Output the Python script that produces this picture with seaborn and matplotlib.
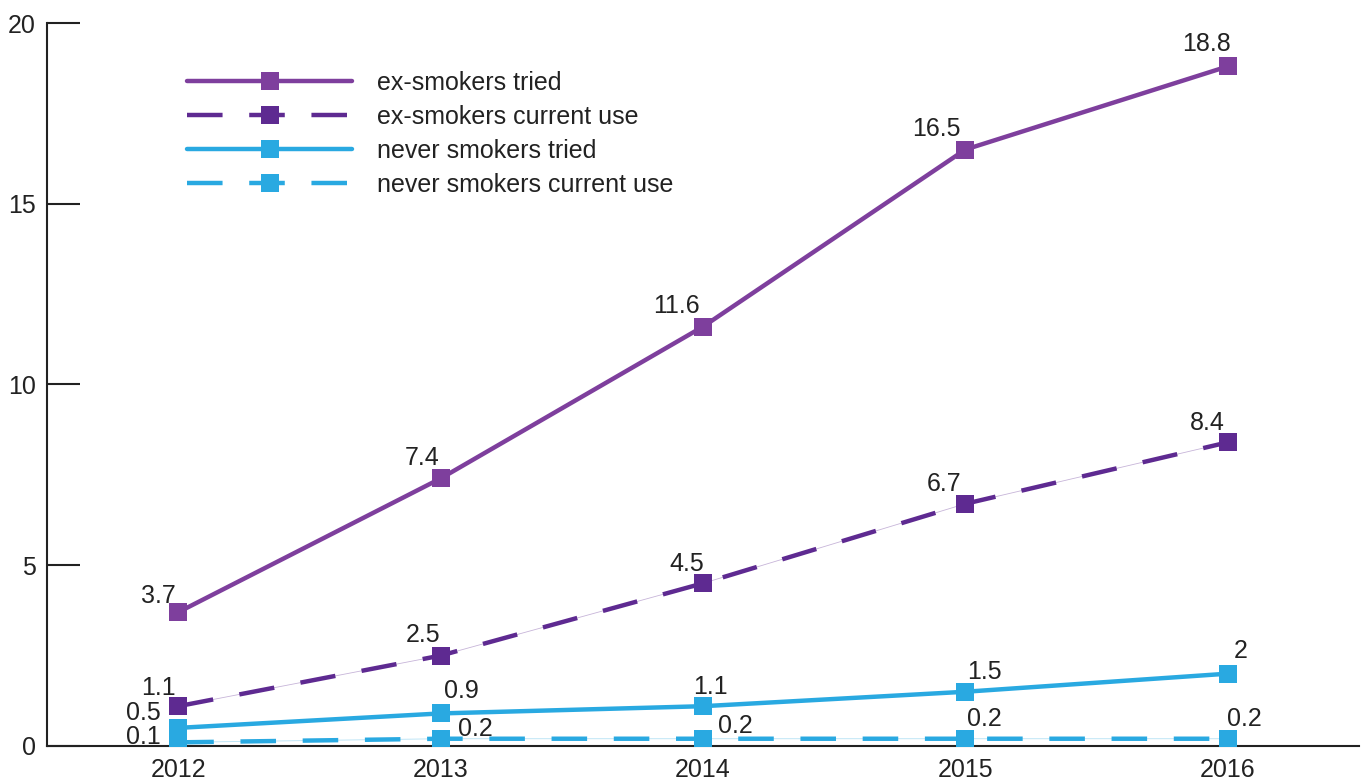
import numpy as np
import pandas as pd
import matplotlib
matplotlib.use("Agg")
import matplotlib.pyplot as plt
from matplotlib.lines import Line2D
import seaborn as sns

years = ["2012", "2013", "2014", "2015", "2016"]
series_names = ["ex-smokers tried", "ex-smokers current use",
                "never smokers tried", "never smokers current use"]
ex_tried = [3.7, 7.4, 11.6, 16.5, 18.8]
ex_current = [1.1, 2.5, 4.5, 6.7, 8.4]
never_tried = [0.5, 0.9, 1.1, 1.5, 2]
never_current = [0.1, 0.2, 0.2, 0.2, 0.2]
label_text = {
    "ex-smokers tried": ["3.7", "7.4", "11.6", "16.5", "18.8"],
    "ex-smokers current use": ["1.1", "2.5", "4.5", "6.7", "8.4"],
    "never smokers tried": ["0.5", "0.9", "1.1", "1.5", "2"],
    "never smokers current use": ["0.1", "0.2", "0.2", "0.2", "0.2"],
}

colors = {
    "ex-smokers tried": "#7E3F9D",
    "ex-smokers current use": "#5E2A91",
    "never smokers tried": "#29A9E1",
    "never smokers current use": "#29A9E1",
}
dash_map = {
    "ex-smokers tried": "",
    "ex-smokers current use": (8.0, 6.0),
    "never smokers tried": "",
    "never smokers current use": (8.0, 6.0),
}
# label offsets in points (dx, dy) relative to each marker
offsets = {
    "ex-smokers tried": [(-14, 12), (-13, 15), (-19, 15), (-21, 15), (-15, 16)],
    "ex-smokers current use": [(-14, 13), (-13, 15), (-12, 14), (-15, 14), (-15, 14)],
    "never smokers tried": [(-25, 11), (15, 16), (5, 14), (14, 14), (9, 16)],
    "never smokers current use": [(-25, 4), (25, 7), (23, 9), (14, 14), (12, 14)],
}

values = [ex_tried, ex_current, never_tried, never_current]
rows = []
for name, vals in zip(series_names, values):
    for i, (yr, v) in enumerate(zip(years, vals)):
        rows.append({"series": name, "year": yr, "pos": i, "value": v})
df = pd.DataFrame(rows)

sns.set_theme(style="white")
plt.rcParams["font.family"] = ["Liberation Sans", "DejaVu Sans"]

fig = plt.figure(figsize=(13.72, 7.83), dpi=100)
ax = fig.add_axes([0.0343, 0.0473, 0.9562, 0.9233])

# faint connecting lines beneath the dashed series
for name in ["ex-smokers current use", "never smokers current use"]:
    sub = df[df["series"] == name]
    ax.plot(sub["pos"], sub["value"], color=colors[name], lw=0.6, alpha=0.35, zorder=1)

sns.lineplot(
    data=df, x="pos", y="value", hue="series", style="series",
    hue_order=series_names, style_order=series_names,
    palette=colors, dashes=dash_map, markers={n: "s" for n in series_names},
    markersize=13, markeredgewidth=0, linewidth=3.2, legend=False, ax=ax, zorder=3,
)

for name in series_names:
    sub = df[df["series"] == name]
    for (_, r), txt, off in zip(sub.iterrows(), label_text[name], offsets[name]):
        ax.annotate(txt, (r["pos"], r["value"]), xytext=off, textcoords="offset points",
                    ha="center", va="center", fontsize=18, color="#222222", zorder=5)

handles = []
for n in series_names:
    h = Line2D([], [], color=colors[n], lw=3.2, marker="s", markersize=13, markeredgewidth=0,
               linestyle="--" if dash_map[n] else "-")
    if dash_map[n]:
        h.set_dashes(dash_map[n])
    handles.append(h)
leg = ax.legend(handles, series_names, loc="upper left", bbox_to_anchor=(0.107, 0.934),
                frameon=False, fontsize=18, handlelength=6.6, handletextpad=1.0,
                labelspacing=0.4, borderaxespad=0, borderpad=0)
for t in leg.get_texts():
    t.set_color("#222222")

ax.set_xlim(-0.5, 4.5)
ax.set_ylim(0, 20)
ax.set_yticks([0, 5, 10, 15, 20])
ax.set_xticks([0.5, 1.5, 2.5, 3.5, 4.5])
ax.set_xticklabels([])
ax.set_xticks(range(len(years)), minor=True)
ax.set_xticklabels(years, minor=True)
ax.tick_params(axis="x", which="major", direction="in", length=13, width=1.5, color="#222222")
ax.tick_params(axis="x", which="minor", length=0, pad=9, labelsize=18, labelcolor="#222222")
ax.tick_params(axis="y", which="major", direction="in", length=24, width=1.5, color="#222222",
               pad=8, labelsize=18, labelcolor="#222222", left=True)
ax.set_xlabel("")
ax.set_ylabel("")
for s in ["top", "right"]:
    ax.spines[s].set_visible(False)
for s in ["left", "bottom"]:
    ax.spines[s].set_color("#222222")
    ax.spines[s].set_linewidth(1.5)

fig.savefig("out.png", dpi=100)
